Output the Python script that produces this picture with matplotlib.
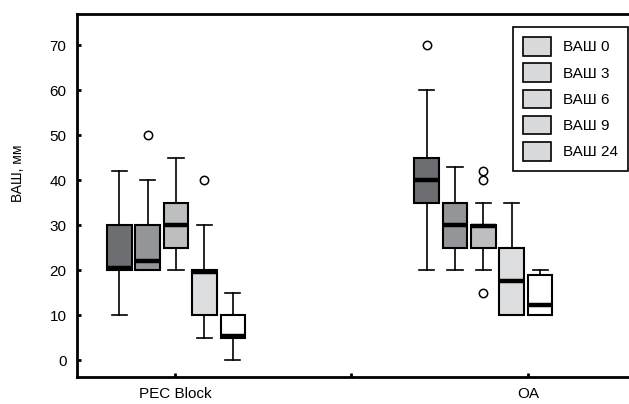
import matplotlib
matplotlib.use("Agg")
import matplotlib.pyplot as plt
from matplotlib.patches import Patch

plt.rcParams['font.family'] = ['Liberation Sans', 'DejaVu Sans']

groups = ["PEC Block", "OA"]
series = ["ВАШ 0", "ВАШ 3", "ВАШ 6", "ВАШ 9", "ВАШ 24"]

# per group, per series: whislo, q1, med, q3, whishi, fliers
pec_whislo = [10, 20, 20, 5, 0]
pec_q1 = [20, 20, 25, 10, 5]
pec_med = [20.4, 22, 30, 19.6, 5.3]
pec_q3 = [30, 30, 35, 20, 10]
pec_whishi = [42, 40, 45, 30, 15]
pec_fliers = [[], [50], [], [40], []]

oa_whislo = [20, 20, 20, 10, 10]
oa_q1 = [35, 25, 25, 10, 10]
oa_med = [40, 30, 29.7, 17.5, 12.2]
oa_q3 = [45, 35, 30, 25, 19]
oa_whishi = [60, 43, 35, 35, 20]
oa_fliers = [[70], [], [42, 40, 15], [], []]

colors = ["#6d6e71", "#939598", "#bcbec0", "#dcdddf", "#ffffff"]
legend_color = "#d9dadc"

fig = plt.figure(figsize=(6.29, 4.04), dpi=100)
ax = fig.add_axes([0.1232, 0.0668, 0.8768, 0.8985])

group_centers = [0.003, 0.874]
step = 0.0805
width = 0.0695

data = [
    (pec_whislo, pec_q1, pec_med, pec_q3, pec_whishi, pec_fliers),
    (oa_whislo, oa_q1, oa_med, oa_q3, oa_whishi, oa_fliers),
]
for gc, (wl, q1, md, q3, wh, fl) in zip(group_centers, data):
    stats = []
    for i in range(len(series)):
        stats.append(dict(whislo=wl[i], q1=q1[i], med=md[i], q3=q3[i],
                          whishi=wh[i], fliers=fl[i]))
    positions = [gc + (i - 2) * step for i in range(len(series))]
    bp = ax.bxp(stats, positions=positions, widths=width, patch_artist=True,
                showfliers=True, capwidths=[width * 0.62] * len(series),
                boxprops=dict(linewidth=1.5, edgecolor="black"),
                medianprops=dict(color="black", linewidth=3.2, solid_capstyle='butt'),
                whiskerprops=dict(color="black", linewidth=1.2),
                capprops=dict(color="black", linewidth=1.2),
                flierprops=dict(marker='o', markerfacecolor='white',
                                markeredgecolor='black', markersize=6,
                                markeredgewidth=1.1),
                manage_ticks=False)
    for patch, c in zip(bp['boxes'], colors):
        patch.set_facecolor(c)

ax.set_xlim(-0.2764, 1.287)
ax.set_ylim(-3.78, 76.89)
ax.set_xticks([0, 0.5, 1.0])
ax.set_xticklabels(["PEC Block", "", "OA"])
ax.set_yticks(range(0, 71, 10))
ax.tick_params(axis='both', direction='in', length=3, width=2, labelsize=11)
ax.tick_params(axis='y', pad=8)
ax.tick_params(axis='x', pad=7)
for s in ['left', 'bottom', 'top']:
    ax.spines[s].set_linewidth(2)
ax.spines['right'].set_visible(False)

ax.set_ylabel("ВАШ, мм", fontsize=10)
ax.yaxis.set_label_coords(-0.095, 0.56)

handles = [Patch(facecolor=legend_color, edgecolor='black', linewidth=1.2, label=s)
           for s in series]
leg = ax.legend(handles=handles, loc='upper right', bbox_to_anchor=(0.9982, 0.964),
                borderaxespad=0,
                fontsize=11, frameon=True, fancybox=False, edgecolor='black',
                handlelength=1.85, handleheight=1.5, handletextpad=0.77,
                labelspacing=0.5, borderpad=0.65, framealpha=1)
leg.get_frame().set_linewidth(1.2)

fig.savefig("out.png", dpi=100)
